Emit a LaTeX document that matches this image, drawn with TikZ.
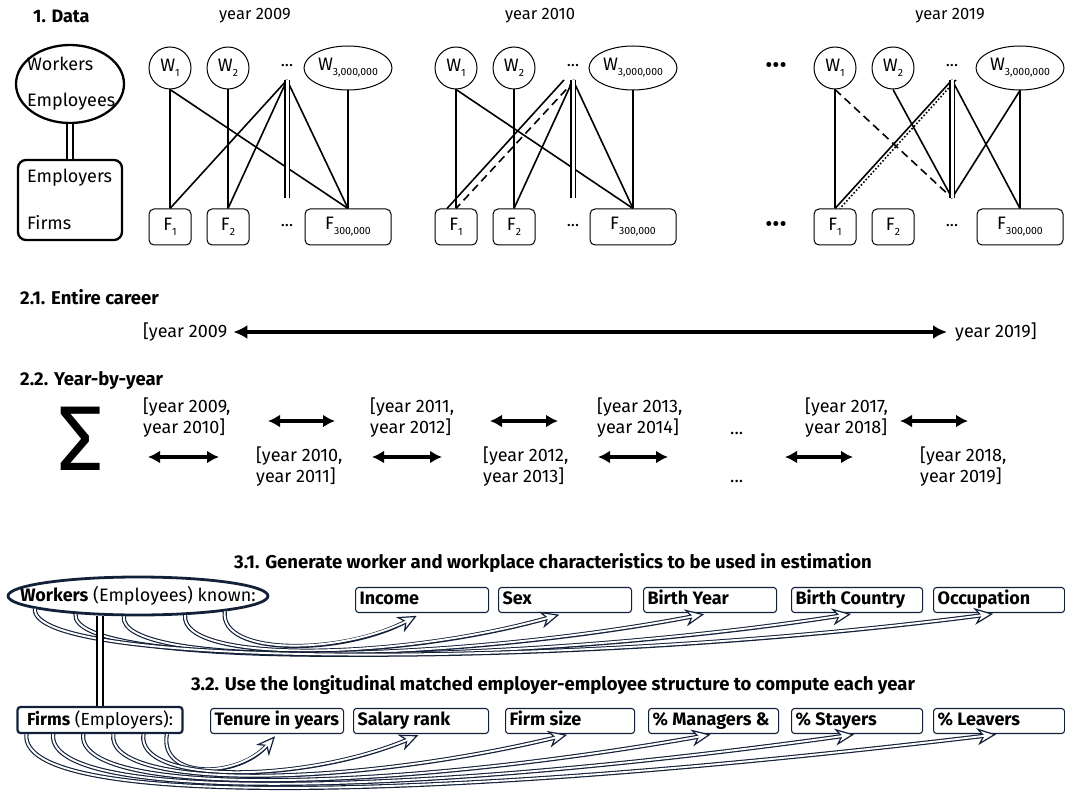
\documentclass[tikz,border=0pt]{standalone}
\usepackage{fontspec}
\setmainfont{Fira Sans}
\usetikzlibrary{arrows.meta,positioning,shapes.geometric,calc}
\definecolor{navy}{HTML}{13203A}

\newcommand{\lowsub}[1]{\raisebox{-0.5ex}{\fontsize{10.5}{10.5}\selectfont #1}}

\begin{document}
\begin{tikzpicture}[
    x=1pt, y=-1pt,
    head/.style={font=\fontsize{18}{21}\selectfont\bfseries, anchor=west, inner sep=0},
    yeartxt/.style={font=\fontsize{16.5}{19}\selectfont, inner sep=0},
    wnode/.style={circle, draw, line width=1pt, minimum size=42, inner sep=0, font=\fontsize{18}{20}\selectfont},
    wbig/.style={ellipse, draw, line width=1pt, minimum width=88, minimum height=44, inner sep=0, font=\fontsize{18}{20}\selectfont},
    fnode/.style={rectangle, draw, rounded corners=5pt, line width=1pt, minimum width=42, minimum height=36, inner sep=0, font=\fontsize{18}{20}\selectfont},
    fbig/.style={fnode, minimum width=86},
    dots/.style={font=\fontsize{17}{19}\selectfont, inner sep=0},
    link/.style={line width=1.6pt},
    hubline/.style={double, double distance=3pt, line width=1.3pt},
    tie/.style={double, double distance=4pt, line width=1.6pt},
    chead/.style={font=\fontsize{18.5}{21}\selectfont\bfseries, anchor=west, inner sep=0},
    ctxt/.style={font=\fontsize{18}{21}\selectfont, align=left, anchor=west, inner sep=0},
    bigarrow/.style={{Latex[length=14pt,width=14pt]}-{Latex[length=14pt,width=14pt]}, line width=3.8pt},
    yarrow/.style={{Latex[length=12pt,width=13pt]}-{Latex[length=12pt,width=13pt]}, line width=3.5pt},
    stephead/.style={font=\fontsize{18.5}{21}\selectfont\bfseries, inner sep=0},
    featbox/.style={draw=navy, rounded corners=3pt, line width=1.1pt, minimum height=25, anchor=west, inner xsep=4pt, inner ysep=0, text height=13pt, text depth=4pt, font=\fontsize{18}{21}\selectfont\bfseries, execute at begin node={\hbox to #1pt\bgroup}, execute at end node={\hfil\egroup}},
    swoosh/.style={draw=navy, line width=4.2pt, -{Stealth[open, fill=white, line width=1.2pt, length=19pt, width=17pt, inset=6pt]}, postaction={draw=white, line width=1.9pt, -, shorten >=13pt}},
]
\useasboundingbox (0,0) rectangle (1065,802);

% 1. Data
\node[head] (data) at (33,16) {1. Data};
\node[yeartxt] (y09) at (255,16) {year 2009};
\node[yeartxt] (y10) at (540,16) {year 2010};
\node[yeartxt] (y19) at (950,16) {year 2019};

\node[ellipse, draw, line width=2.3pt, minimum width=108, minimum height=78] (we) at (70,84) {};
\node[align=left, anchor=west, inner sep=0, font=\fontsize{18}{21}\selectfont] (wetxt) at (27,84) {Workers\\[15pt]Employees};
\node[rectangle, rounded corners=8pt, draw, line width=2.3pt, minimum width=104, minimum height=80] (em) at (70,200) {};
\node[align=left, anchor=west, inner sep=0, font=\fontsize{18}{21}\selectfont] (emtxt) at (27,199) {Employers\\[26pt]Firms};
\draw[tie] (we) -- (em);

\foreach \g/\x/\xr in {09/170/348, 10/456/633, 19/835/1020} {
  \node[wnode] (w1-\g) at (\x,68) {W\lowsub{1}};
  \node[wnode] (w2-\g) at (\x+58,68) {W\lowsub{2}};
  \node[dots] (wd-\g) at (\x+117,66) {...};
  \node[wbig] (wn-\g) at (\xr,68) {\makebox[0pt]{W\lowsub{3,000,000}}};
  \node[fnode] (f1-\g) at (\x,227) {F\lowsub{1}};
  \node[fnode] (f2-\g) at (\x+58,227) {F\lowsub{2}};
  \node[dots] (fd-\g) at (\x+117,226) {...};
  \node[fbig] (fn-\g) at (\xr,227) {F\lowsub{300,000}};
  \coordinate (ht-\g) at (\x+117,80);
  \coordinate (hb-\g) at (\x+117,198);
}
\node[dots, font=\fontsize{22}{22}\selectfont] (gapw) at (776,68) {\textbullet\textbullet\textbullet};
\node[dots, font=\fontsize{22}{22}\selectfont] (gapf) at (776,227) {\textbullet\textbullet\textbullet};

% year 2009 links
\draw[link] (w1-09.south) -- (f1-09.north);
\draw[link] (w1-09.south) -- (fn-09.north);
\draw[link] (w2-09.south) -- (f2-09.north);
\draw[link] (wn-09.south) -- (fn-09.north);
\draw[link] (ht-09) -- (f1-09.north);
\draw[link] (ht-09) -- (f2-09.north);
\draw[link] (ht-09) -- (fn-09.north);
\draw[hubline] (ht-09) -- (hb-09);

% year 2010 links
\draw[link] (w1-10.south) -- (f1-10.north);
\draw[link] (w1-10.south) -- (fn-10.north);
\draw[link] (w2-10.south) -- (f2-10.north);
\draw[link] (wn-10.south) -- (fn-10.north);
\draw[link] ([xshift=-9pt]ht-10) -- ([xshift=-9pt]f1-10.north);
\draw[link, dash pattern=on 8pt off 5pt] ([xshift=2pt]ht-10) -- (f1-10.north);
\draw[link] (ht-10) -- (f2-10.north);
\draw[link] (ht-10) -- (fn-10.north);
\draw[hubline] (ht-10) -- (hb-10);

% year 2019 links
\draw[link] (w1-19.south) -- (f1-19.north);
\draw[link, dash pattern=on 8pt off 5pt] (w1-19.south) -- (hb-19);
\draw[link] (w2-19.south) -- (hb-19);
\draw[link] (ht-19) -- (f1-19.north);
\draw[link, dotted] ([xshift=4pt]ht-19) -- ([xshift=5pt]f1-19.north);
\draw[link] (ht-19) -- (fn-19.north);
\draw[link] (wn-19.south) -- (hb-19);
\draw[link] (wn-19.south) -- (fn-19.north);
\draw[hubline] (ht-19) -- (hb-19);

% 2.1 Entire career
\node[chead] (s21) at (20,297) {2.1. Entire career};
\node[ctxt] (c09) at (143,332) {[year 2009};
\node[ctxt] (c19) at (955,332) {year 2019]};
\draw[bigarrow, shorten <=6pt, shorten >=8pt] (c09) -- (c19);

% 2.2 Year-by-year
\node[chead] (s22) at (20,381) {2.2. Year-by-year};
\node[font=\fontsize{92}{92}\selectfont, inner sep=0] (sig) at (81,439) {Σ};
\node[ctxt] (p1) at (143,418) {[year 2009,\\year 2010]};
\node[ctxt] (p3) at (370,418) {[year 2011,\\year 2012]};
\node[ctxt] (p5) at (597,418) {[year 2013,\\year 2014]};
\node[ctxt] (p9) at (805,418) {[year 2017,\\year 2018]};
\node[ctxt] (p2) at (256,467) {[year 2010,\\year 2011]};
\node[ctxt] (p4) at (483,467) {[year 2012,\\year 2013]};
\node[ctxt] (p10) at (920,467) {[year 2018,\\year 2019]};
\node[ctxt] (dt) at (730,433) {...};
\node[ctxt] (db) at (730,481) {...};

\draw[yarrow] ($(p3.west)+(-35,3)$) -- ++(-67,0);
\draw[yarrow] ($(p5.west)+(-39,3)$) -- ++(-68,0);
\draw[yarrow] ($(p9.west)+(95,3)$) -- ++(68,0);
\draw[yarrow] ($(p2.west)+(-37,-10)$) -- ++(-71,0);
\draw[yarrow] ($(p4.west)+(-41,-10)$) -- ++(-70,0);
\draw[yarrow] ($(p4.west)+(115,-10)$) -- ++(70,0);
\draw[yarrow] ($(p10.west)+(-67,-10)$) -- ++(-68,0);

% 3.1 worker characteristics
\node[stephead] (s31) at (553,563) {3.1. Generate worker and workplace characteristics to be used in estimation};
\node[ellipse, draw=navy, line width=2.8pt, minimum width=260, minimum height=38, inner sep=0] (wk) at (138,596) {\makebox[0pt]{\fontsize{18}{21}\selectfont\textbf{Workers} (Employees) known:}};
\node[featbox=125] (inc) at (355,600) {Income};
\node[featbox=125] (sex) at (498,600) {Sex};
\node[featbox=125] (byear) at (643,600) {Birth Year};
\node[featbox=123] (bcountry) at (791,600) {Birth Country};
\node[featbox=123] (occup) at (933,600) {Occupation};

\foreach \a/\t/\c/\d/\e in {350/inc/80/42/45, 338/sex/170/48/48, 235/byear/260/50/52, 196/bcountry/340/53/56, 187/occup/430/56/60}
  \draw[swoosh, shorten >=6pt] (wk.\a) .. controls +(-6,\e) and +(-\c,\d) .. (\t.south);

% 3.2 firm characteristics
\node[stephead] (s32) at (553,685) {3.2. Use the longitudinal matched employer-employee structure to compute each year};
\node[draw=navy, rounded corners=3pt, line width=2.2pt, minimum width=165, minimum height=26, inner sep=2pt, font=\fontsize{17.5}{20}\selectfont] (fm) at (100,720) {\textbf{Firms} (Employers):};
\node[featbox=125] (tenure) at (210,721) {Tenure in years};
\node[featbox=127] (salary) at (353,721) {Salary rank};
\node[featbox=121] (fsize) at (505,721) {Firm size};
\node[featbox=122] (manag) at (648,721) {\% Managers \&};
\node[featbox=123] (stay) at (791,721) {\% Stayers};
\node[featbox=123] (leave) at (933,721) {\% Leavers};
\draw[tie] (fm.north) -- (fm.north |- wk.south);

\foreach \s/\t/\c/\d/\e in {0.9/tenure/40/45/45, 0.76/salary/120/50/50, 0.58/fsize/230/55/55, 0.4/manag/340/60/62, 0.22/stay/460/64/68, 0.06/leave/570/68/75}
  \draw[swoosh, shorten >=3pt] ($(fm.south west)!\s!(fm.south east)$) .. controls +(-8,\e) and +(-\c,\d) .. (\t.south);

\end{tikzpicture}
\end{document}
